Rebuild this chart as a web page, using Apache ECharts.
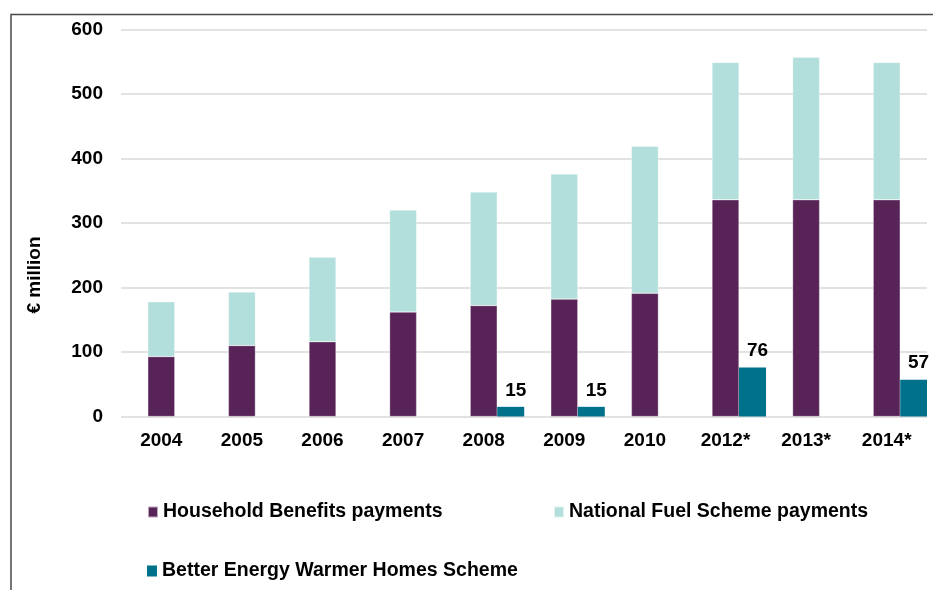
<!DOCTYPE html>
<html>
<head>
<meta charset="utf-8">
<title>Fuel support payments</title>
<script src="https://cdn.jsdelivr.net/npm/echarts@6/dist/echarts.min.js"></script>
<style>
  html, body { margin: 0; padding: 0; background: #fff; }
  #chart { width: 933px; height: 590px; }
</style>
</head>
<body>
<div id="chart"></div>
<script>
// data (€ million)
const years = ['2004', '2005', '2006', '2007', '2008', '2009', '2010', '2012*', '2013*', '2014*']
const household = [93, 110, 116, 162, 172, 182, 191, 336, 336, 336]
const nationalFuel = [85, 83, 131, 158, 176, 194, 228, 213, 221, 213]
const betterEnergy = [null, null, null, null, 15, 15, null, 76, null, 57]
const yTicks = { min: 0, max: 600, step: 100 }

const FONT = "'Liberation Sans', Arial, sans-serif"
const names = ['Household Benefits payments', 'National Fuel Scheme payments', 'Better Energy Warmer Homes Scheme']
const colors = ['#582458', '#b2dfdb', '#00718b']

function legendAt(name, left, top) {
  return {
    data: [name],
    left: left,
    top: top,
    icon: 'rect',
    itemWidth: 10,
    itemHeight: 11,
    selectedMode: false,
    textStyle: { fontFamily: FONT, fontSize: 19.5, fontWeight: 'bold', color: '#000' }
  }
}

function getOptions() {
  return {
    animation: false,
    grid: { left: 121, right: 6, top: 29.5, bottom: 173.5 },
    legend: [
      legendAt(names[0], 142, 497),
      legendAt(names[1], 548, 497),
      legendAt(names[2], 142, 556)
    ],
    xAxis: {
      type: 'category',
      data: years,
      axisLine: { show: false },
      axisTick: { show: false },
      axisLabel: { margin: 15, fontFamily: FONT, fontSize: 19, fontWeight: 'bold', color: '#000' }
    },
    yAxis: {
      type: 'value',
      min: yTicks.min,
      max: yTicks.max,
      interval: yTicks.step,
      axisLine: { show: false },
      axisTick: { show: false },
      axisLabel: { margin: 18, fontFamily: FONT, fontSize: 19, fontWeight: 'bold', color: '#000' },
      splitLine: { lineStyle: { color: '#d9d9d9', width: 1.5 } }
    },
    series: [
      // empty slot on the left so the stacked bar sits on the category centre
      { name: 'gap', type: 'bar', barWidth: 27, barGap: '0%', data: [], silent: true },
      {
        name: names[0], type: 'bar', stack: 'payments', barWidth: 27, barGap: '0%',
        itemStyle: { color: colors[0], borderColor: 'rgba(255,255,255,0.6)', borderWidth: 0.5 },
        data: household
      },
      {
        name: names[1], type: 'bar', stack: 'payments', barWidth: 27, barGap: '0%',
        itemStyle: { color: colors[1], borderColor: 'rgba(255,255,255,0.6)', borderWidth: 0.5 },
        data: nationalFuel
      },
      {
        name: names[2], type: 'bar', barWidth: 27, barGap: '0%',
        itemStyle: { color: colors[2] },
        label: {
          show: true, position: 'top', distance: 7, offset: [5, 0],
          fontFamily: FONT, fontSize: 19, fontWeight: 'bold', color: '#000'
        },
        data: betterEnergy
      }
    ],
    graphic: [
      {
        type: 'polyline',
        shape: { points: [[11, 590], [11, 14.5], [933, 14.5]] },
        style: { stroke: '#4a4a4a', lineWidth: 1.5, fill: null }
      },
      {
        type: 'text',
        x: 35, y: 275,
        rotation: Math.PI / 2,
        style: {
          text: '€ million', fill: '#000',
          font: "bold 19px 'Liberation Sans', Arial, sans-serif",
          align: 'center', verticalAlign: 'middle'
        }
      }
    ]
  }
}

const chart = echarts.init(document.getElementById('chart'))
chart.setOption(getOptions())
</script>
</body>
</html>
